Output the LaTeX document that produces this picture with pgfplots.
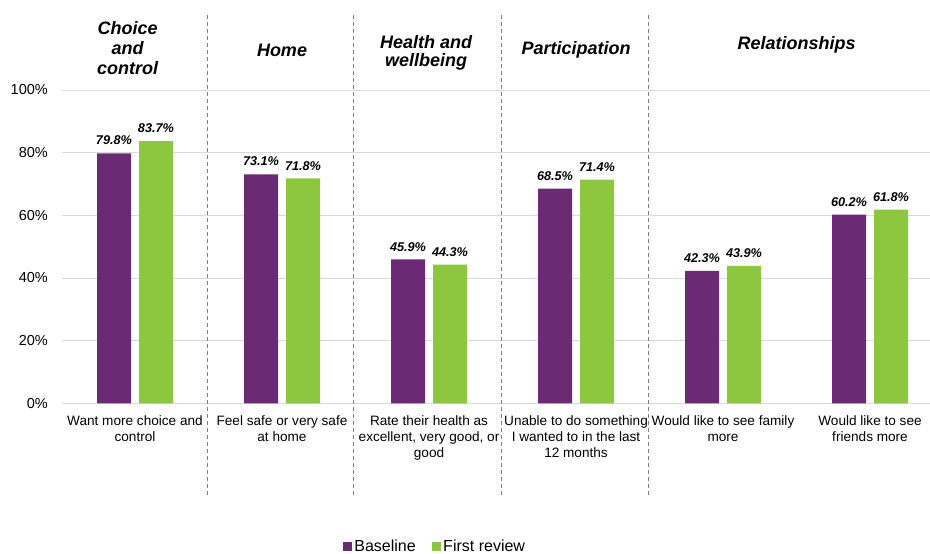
\documentclass[border=0pt]{standalone}
\usepackage{pgfplots}
\pgfplotsset{compat=1.18}
\usepackage{fontspec}
\setmainfont{Liberation Sans}

\definecolor{baseline}{HTML}{6B2A74}
\definecolor{review}{HTML}{8DC63F}
\definecolor{gridgray}{HTML}{D9D9D9}
\definecolor{sepgray}{HTML}{808080}

\pgfplotsset{
  sq legend/.style={
    /pgfplots/legend image code/.code={\fill[##1] (0bp,-4.8bp) rectangle (9.5bp,4.8bp);}
  }
}

\begin{document}
\begin{tikzpicture}
\useasboundingbox (0,0) rectangle (930bp,554bp);
\begin{axis}[
  at={(61.5bp,150.7bp)}, anchor=south west,
  scale only axis,
  width=868.5bp, height=313.3bp,
  xmin=-0.5, xmax=5.408,
  ymin=0, ymax=100,
  clip=false,
  ybar=8bp, bar width=34bp,
  axis line style={draw=none},
  major tick length=0pt,
  ymajorgrids, grid style={gridgray, line width=0.9bp},
  ytick={0,20,40,60,80,100},
  yticklabels={0\%,20\%,40\%,60\%,80\%,100\%},
  yticklabel style={font=\fontsize{14.5bp}{17bp}\selectfont, anchor=east, inner sep=0pt, xshift=-13.5bp},
  xtick={0,1,2,3,4,5},
  xticklabels={
    {Want more choice and\\control},
    {Feel safe or very safe\\at home},
    {Rate their health as\\excellent, very good, or\\good},
    {Unable to do something\\I wanted to in the last\\12 months},
    {Would like to see family\\more},
    {Would like to see\\friends more}},
  xticklabel style={font=\fontsize{13.6bp}{16bp}\selectfont, align=center, anchor=north, inner sep=0pt, yshift=-12bp},
  /pgf/number format/assume math mode=true,
  nodes near coords={\pgfmathprintnumber[fixed,fixed zerofill,precision=1]{\pgfplotspointmeta}\%},
  every node near coord/.append style={font=\bfseries\itshape\fontsize{12.7bp}{15bp}\selectfont, inner sep=0pt, yshift=8bp},
  legend columns=2,
  legend style={at={(0.43,-0.457)}, anchor=center, draw=none, fill=none,
    font=\fontsize{16bp}{18bp}\selectfont,
    /tikz/every even column/.append style={column sep=14bp},
    inner sep=0pt, cells={anchor=west}},
]
\addplot[fill=baseline, draw=none, sq legend] coordinates {
  (0,79.8) (1,73.1) (2,45.9) (3,68.5) (4,42.3) (5,60.2)};
\addlegendentry{Baseline}
\addplot[fill=review, draw=none, sq legend] coordinates {
  (0,83.7) (1,71.8) (2,44.3) (3,71.4) (4,43.9) (5,61.8)};
\addlegendentry{First review}

% dashed dividers between the domains
\draw[sepgray, line width=0.9bp, dash pattern=on 4bp off 3bp] (axis cs:0.49,123.8) -- (axis cs:0.49,-30);
\draw[sepgray, line width=0.9bp, dash pattern=on 4bp off 3bp] (axis cs:1.485,123.8) -- (axis cs:1.485,-30);
\draw[sepgray, line width=0.9bp, dash pattern=on 4bp off 3bp] (axis cs:2.495,123.8) -- (axis cs:2.495,-30);
\draw[sepgray, line width=0.9bp, dash pattern=on 4bp off 3bp] (axis cs:3.49,123.8) -- (axis cs:3.49,-30);

% domain headings
\node[font=\bfseries\itshape\fontsize{18bp}{20bp}\selectfont, align=center] at (axis cs:-0.05,113.3) {Choice\\and\\control};
\node[font=\bfseries\itshape\fontsize{18bp}{20bp}\selectfont, align=center] at (axis cs:1,112.5) {Home};
\node[font=\bfseries\itshape\fontsize{18bp}{18bp}\selectfont, align=center] at (axis cs:1.98,112.0) {Health and\\wellbeing};
\node[font=\bfseries\itshape\fontsize{18bp}{20bp}\selectfont, align=center] at (axis cs:3,112.9) {Participation};
\node[font=\bfseries\itshape\fontsize{18bp}{20bp}\selectfont, align=center] at (axis cs:4.5,114.5) {Relationships};
\end{axis}
\end{tikzpicture}
\end{document}
